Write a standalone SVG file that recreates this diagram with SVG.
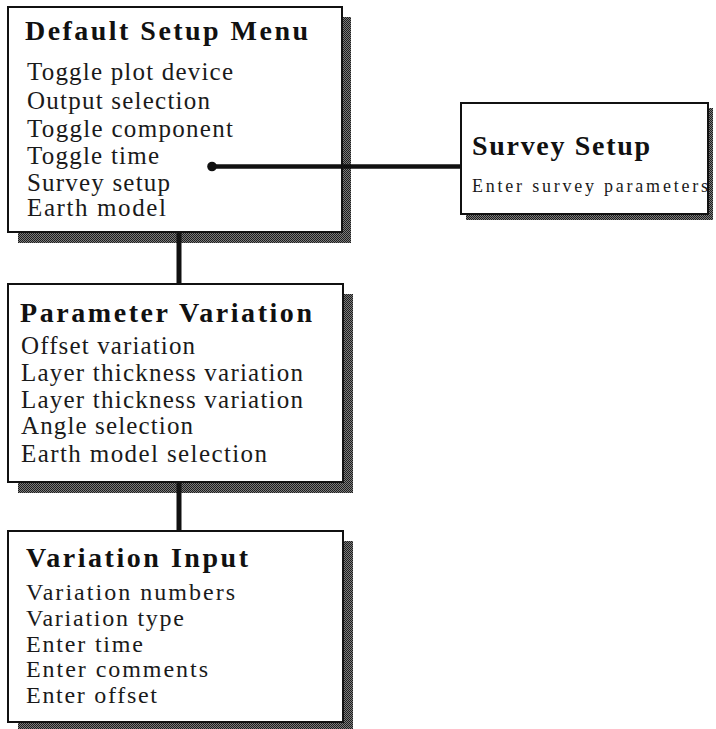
<svg xmlns="http://www.w3.org/2000/svg" width="716" height="729" viewBox="0 0 716 729">
  <defs>
    <pattern id="shade" width="2" height="2" patternUnits="userSpaceOnUse">
      <rect width="2" height="2" fill="#7a7a7a"/>
      <rect width="1" height="1" fill="#1e1e1e"/>
      <rect x="1" y="1" width="1" height="1" fill="#1e1e1e"/>
    </pattern>
  </defs>
  <style>
    .shadow { fill: url(#shade); }
    .box { fill: #ffffff; stroke: #111; stroke-width: 2; }
    .title { font-family: "Liberation Serif", "Times New Roman", serif; font-weight: bold; font-size: 28px; fill: #111; }
    .item { font-family: "Liberation Serif", "Times New Roman", serif; font-size: 25px; fill: #1a1a1a; }
    .item2 { font-family: "Liberation Serif", "Times New Roman", serif; font-size: 24px; fill: #1a1a1a; }
    .small { font-family: "Liberation Serif", "Times New Roman", serif; font-size: 18px; fill: #1a1a1a; }
    .conn { stroke: #111; fill: none; }
  </style>
  <rect width="716" height="729" fill="#ffffff"/>

  <g id="default-setup-menu">
    <rect class="shadow" x="18" y="17" width="333" height="226"/>
    <rect class="box" x="8" y="7" width="334" height="225"/>
    <text class="title" x="25" y="40" textLength="283" lengthAdjust="spacing">Default Setup Menu</text>
    <text class="item" x="27" y="80" textLength="206" lengthAdjust="spacing">Toggle plot device</text>
    <text class="item" x="27" y="109" textLength="183" lengthAdjust="spacing">Output selection</text>
    <text class="item" x="27" y="137" textLength="206" lengthAdjust="spacing">Toggle component</text>
    <text class="item" x="27" y="164" textLength="132" lengthAdjust="spacing">Toggle time</text>
    <text class="item" x="27" y="191" textLength="143" lengthAdjust="spacing">Survey setup</text>
    <text class="item" x="27" y="216" textLength="139" lengthAdjust="spacing">Earth model</text>
  </g>

  <g id="survey-setup">
    <rect class="shadow" x="466" y="108" width="247" height="112"/>
    <rect class="box" x="461" y="103" width="247" height="111"/>
    <text class="title" x="472" y="155" textLength="178" lengthAdjust="spacing">Survey Setup</text>
    <text class="small" x="472" y="192" textLength="236" lengthAdjust="spacing">Enter survey parameters</text>
  </g>

  <g id="parameter-variation">
    <rect class="shadow" x="18" y="294" width="335" height="199"/>
    <rect class="box" x="8" y="284" width="335" height="198"/>
    <text class="title" x="20" y="322" textLength="292" lengthAdjust="spacing">Parameter Variation</text>
    <text class="item" x="21" y="354" textLength="174" lengthAdjust="spacing">Offset variation</text>
    <text class="item" x="21" y="381" textLength="282" lengthAdjust="spacing">Layer thickness variation</text>
    <text class="item" x="21" y="408" textLength="282" lengthAdjust="spacing">Layer thickness variation</text>
    <text class="item" x="21" y="434" textLength="172" lengthAdjust="spacing">Angle selection</text>
    <text class="item" x="21" y="462" textLength="246" lengthAdjust="spacing">Earth model selection</text>
  </g>

  <g id="variation-input">
    <rect class="shadow" x="18" y="541" width="335" height="192"/>
    <rect class="box" x="8" y="531" width="335" height="191"/>
    <text class="title" x="26" y="567" textLength="222" lengthAdjust="spacing">Variation Input</text>
    <text class="item2" x="26" y="600" textLength="209" lengthAdjust="spacing">Variation numbers</text>
    <text class="item2" x="26" y="626" textLength="158" lengthAdjust="spacing">Variation type</text>
    <text class="item2" x="26" y="652" textLength="117" lengthAdjust="spacing">Enter time</text>
    <text class="item2" x="26" y="677" textLength="182" lengthAdjust="spacing">Enter comments</text>
    <text class="item2" x="26" y="703" textLength="131" lengthAdjust="spacing">Enter offset</text>
  </g>

  <g id="connectors">
    <line class="conn" x1="179" y1="233" x2="179" y2="283" stroke-width="5"/>
    <line class="conn" x1="179" y1="483" x2="179" y2="530" stroke-width="5"/>
    <line class="conn" x1="212" y1="166.5" x2="460" y2="166.5" stroke-width="4.5"/>
    <circle cx="212" cy="166.5" r="4.8" fill="#111"/>
  </g>
</svg>
